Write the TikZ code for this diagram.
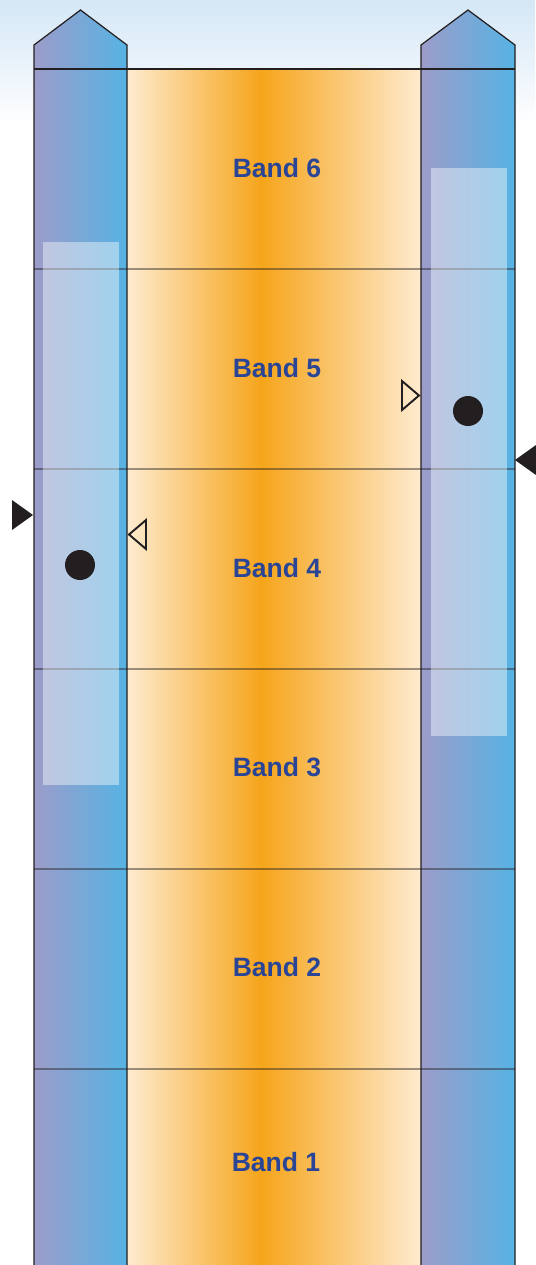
\documentclass[tikz,border=0pt]{standalone}
\usepackage{fontspec}
\setmainfont{Liberation Sans}
\definecolor{bandpale}{HTML}{FEEBD0}
\definecolor{bandorange}{HTML}{F6A51B}
\definecolor{collav}{HTML}{9C9CC9}
\definecolor{colblue}{HTML}{56B3E4}
\definecolor{skytop}{HTML}{D4E7F6}
\definecolor{labelblue}{HTML}{2A4596}
\definecolor{edgegray}{HTML}{231F20}
\begin{document}
\begin{tikzpicture}[x=0.02cm,y=-0.02cm,
  bandlabel/.style={font=\fontsize{15.1}{18}\selectfont\bfseries, text=labelblue},
  edgeline/.style={draw=edgegray, line width=0.7pt},
  bandline/.style={draw=edgegray, draw opacity=0.45, line width=0.6pt},
  glass/.style={fill=white, fill opacity=0.42},
  opentri/.style={draw=edgegray, line width=1.1pt, fill=none}]
  \useasboundingbox (0,0) rectangle (535,1265);
  \fill[top color=skytop, bottom color=white] (0,0) rectangle (535,125);
  \shade[left color=bandpale, right color=bandorange] (127,69) rectangle (261,1265);
  \shade[left color=bandorange, right color=bandpale] (261,69) rectangle (421,1265);
  \shade[left color=collav, right color=colblue] (34,1265) -- (34,45) -- (80.5,10) -- (127,45) -- (127,1265) -- cycle;
  \shade[left color=collav, right color=colblue] (421,1265) -- (421,45) -- (468,10) -- (515,45) -- (515,1265) -- cycle;
  \draw[bandline] (34,269) -- (515,269);
  \draw[bandline] (34,469) -- (515,469);
  \draw[bandline] (34,669) -- (515,669);
  \draw[bandline] (34,869) -- (515,869);
  \draw[bandline] (34,1069) -- (515,1069);
  \fill[glass] (43,242) rectangle (119,785);
  \fill[glass] (431,168) rectangle (507,736);
  \draw[edgeline] (34,1265) -- (34,45) -- (80.5,10) -- (127,45) -- (127,1265);
  \draw[edgeline] (421,1265) -- (421,45) -- (468,10) -- (515,45) -- (515,1265);
  \draw[edgeline] (34,69) -- (515,69);
  \node[bandlabel] (band6) at (277,168) {Band 6};
  \node[bandlabel] (band5) at (277,368) {Band 5};
  \node[bandlabel] (band4) at (277,568) {Band 4};
  \node[bandlabel] (band3) at (277,767) {Band 3};
  \node[bandlabel] (band2) at (277,967) {Band 2};
  \node[bandlabel] (band1) at (276,1162) {Band 1};
  \fill[edgegray] (80,565) circle[radius=15];
  \fill[edgegray] (468,411) circle[radius=15];
  \fill[edgegray] (12,500) -- (33,515) -- (12,530) -- cycle;
  \fill[edgegray] (536,445) -- (515,460) -- (536,475) -- cycle;
  \draw[opentri] (146,520) -- (129,534.5) -- (146,549) -- cycle;
  \draw[opentri] (402,381) -- (419,395.5) -- (402,410) -- cycle;
\end{tikzpicture}
\end{document}
